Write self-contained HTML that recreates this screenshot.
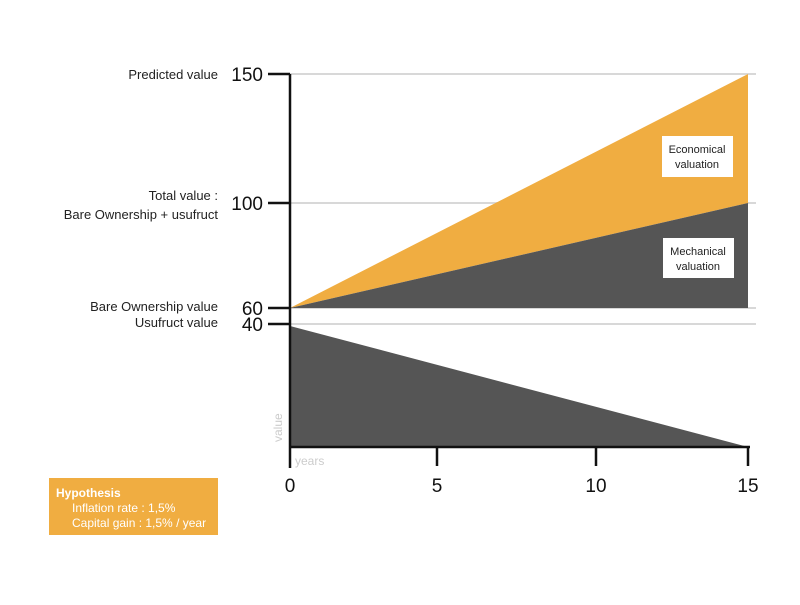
<!DOCTYPE html>
<html><head><meta charset="utf-8"><style>
body{margin:0;background:#fff;font-family:"Liberation Sans",sans-serif;}
</style></head><body>
<svg width="800" height="600" xmlns="http://www.w3.org/2000/svg" font-family="Liberation Sans, sans-serif">
<rect width="800" height="600" fill="#fff"/>
<g stroke="#d8d8d8" stroke-width="2">
<line x1="290" y1="74" x2="756" y2="74"/>
<line x1="290" y1="203" x2="756" y2="203"/>
<line x1="290" y1="308" x2="756" y2="308"/>
<line x1="290" y1="324" x2="756" y2="324"/>
</g>
<polygon points="290,308 748,74 748,203" fill="#f0ad41"/>
<polygon points="290,308 748,203 748,308" fill="#555555"/>
<polygon points="290,326 748,447 290,447" fill="#555555"/>
<g stroke="#111" stroke-width="2.5">
<line x1="290" y1="74" x2="290" y2="468"/>
<line x1="290" y1="447" x2="750" y2="447"/>
<line x1="268" y1="74" x2="290" y2="74"/>
<line x1="268" y1="203" x2="290" y2="203"/>
<line x1="268" y1="308" x2="290" y2="308"/>
<line x1="268" y1="324" x2="290" y2="324"/>
<line x1="437" y1="447" x2="437" y2="466"/>
<line x1="596" y1="447" x2="596" y2="466"/>
<line x1="748" y1="447" x2="748" y2="466"/>
</g>
<g font-size="19" fill="#111" text-anchor="end">
<text x="263" y="81">150</text>
<text x="263" y="210">100</text>
<text x="263" y="315">60</text>
<text x="263" y="331">40</text>
</g>
<g font-size="13" fill="#222" text-anchor="end">
<text x="218" y="79">Predicted value</text>
<text x="218" y="200">Total value :</text>
<text x="218" y="219">Bare Ownership + usufruct</text>
<text x="218" y="311">Bare Ownership value</text>
<text x="218" y="327">Usufruct value</text>
</g>
<g font-size="19" fill="#111" text-anchor="middle">
<text x="290" y="492">0</text>
<text x="437" y="492">5</text>
<text x="596" y="492">10</text>
<text x="748" y="492">15</text>
</g>
<text x="295" y="465" font-size="12" fill="#ccc">years</text>
<text x="282" y="442" font-size="12" fill="#ccc" transform="rotate(-90 282 442)">value</text>
<rect x="662" y="136" width="71" height="41" fill="#fff"/>
<text x="697" y="153" font-size="11" text-anchor="middle" fill="#222">Economical</text>
<text x="697" y="168" font-size="11" text-anchor="middle" fill="#222">valuation</text>
<rect x="663" y="238" width="71" height="40" fill="#fff"/>
<text x="698" y="255" font-size="11" text-anchor="middle" fill="#222">Mechanical</text>
<text x="698" y="270" font-size="11" text-anchor="middle" fill="#222">valuation</text>
<rect x="49" y="478" width="169" height="57" fill="#f0ad41"/>
<text x="56" y="497" font-size="12" font-weight="bold" fill="#fff">Hypothesis</text>
<text x="72" y="512" font-size="12" fill="#fff">Inflation rate : 1,5%</text>
<text x="72" y="527" font-size="12" fill="#fff">Capital gain : 1,5% / year</text>
</svg>
</body></html>
